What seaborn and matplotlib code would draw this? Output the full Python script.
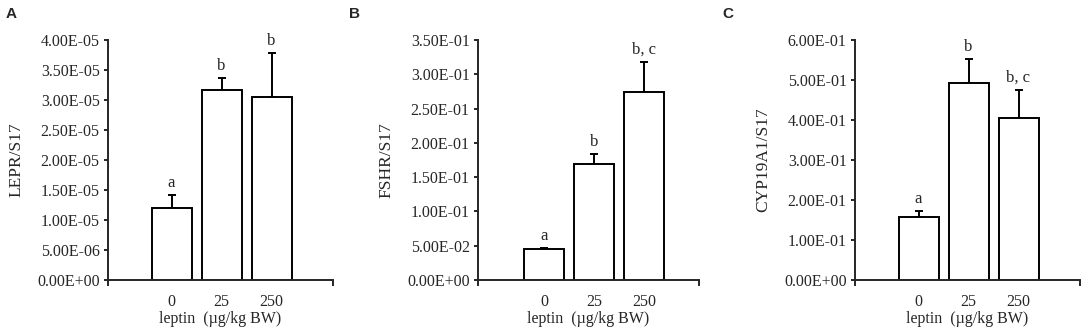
import matplotlib
matplotlib.use("Agg")
import matplotlib.pyplot as plt
import seaborn as sns
import pandas as pd
import numpy as np

sns.set_style("ticks")
plt.rcParams['font.family'] = ['Liberation Serif', 'DejaVu Serif']

# Data
doses = ["0", "25", "250"]
lepr_mean = [1.20e-05, 3.16e-05, 3.05e-05]
lepr_err = [0.22e-05, 0.20e-05, 0.73e-05]
lepr_sig = ["a", "b", "b"]
fshr_mean = [0.0456, 0.169, 0.274]
fshr_err = [0.0015, 0.0147, 0.044]
fshr_sig = ["a", "b", "b, c"]
cyp_mean = [0.158, 0.492, 0.405]
cyp_err = [0.015, 0.060, 0.070]
cyp_sig = ["a", "b", "b, c"]

panels = [
    ("A", "LEPR/S17", lepr_mean, lepr_err, lepr_sig, 4.0e-05, 0.5e-05),
    ("B", "FSHR/S17", fshr_mean, fshr_err, fshr_sig, 0.35, 0.05),
    ("C", "CYP19A1/S17", cyp_mean, cyp_err, cyp_sig, 0.60, 0.10),
]

W, H = 1084, 329
# axes boxes in pixels: left, right, top, bottom, xlim
boxes = [(108, 333, 40, 280, (-1.27, 3.23)),
         (478, 699, 40, 280, (-1.32, 3.10)),
         (855, 1080, 40, 280, (-1.27, 3.23))]
letter_x = [11, 354, 728]

fig = plt.figure(figsize=(W / 100, H / 100), dpi=100)

for (letter, ylab, mean, err, sig, ymax, ystep), (l, r, t, b, xlim), lx in zip(panels, boxes, letter_x):
    ax = fig.add_axes([l / W, (H - b) / H, (r - l) / W, (b - t) / H])
    df = pd.DataFrame({"dose": doses, "value": mean})
    sns.barplot(data=df, x="dose", y="value", color="white", edgecolor="black",
                linewidth=1.4, width=0.8, errorbar=None, ax=ax, zorder=2)
    xs = np.arange(len(doses))
    ax.errorbar(xs, mean, yerr=[np.zeros(len(err)), err], fmt="none", ecolor="black",
                elinewidth=1.4, capsize=3, capthick=1.4, zorder=1)
    for x, m, e, s in zip(xs, mean, err, sig):
        ax.annotate(s, (x, m + e), xytext=(0, 3), textcoords="offset points",
                    ha="center", va="bottom", fontsize=12)

    ax.set_xlim(*xlim)
    ax.set_ylim(0, ymax)
    ticks = np.arange(0, ymax + ystep / 2, ystep)
    ax.set_yticks(ticks)
    ax.set_yticklabels([f"{v:.2E}" for v in ticks])
    ax.tick_params(axis="y", length=3, width=1.4, labelsize=11.5, pad=3)
    ax.set_xticks(xs)
    ax.set_xticklabels(doses)
    ax.tick_params(axis="x", which="major", length=0, labelsize=11.5, pad=10)
    ax.set_xticks(list(xlim), minor=True)
    ax.tick_params(axis="x", which="minor", length=4, width=1.4)

    ax.set_ylabel(ylab, fontsize=12.5, labelpad=9)
    ax.set_xlabel("leptin  (\u00b5g/kg BW)", fontsize=11.5, labelpad=1)
    sns.despine(ax=ax)
    for sp in ["left", "bottom"]:
        ax.spines[sp].set_linewidth(1.4)

    fig.text(lx / W, 1 - 14 / H, letter, fontsize=11, fontweight="bold",
             family=["Liberation Sans", "DejaVu Sans"], ha="center", va="center")

fig.savefig("out.png", dpi=100)
